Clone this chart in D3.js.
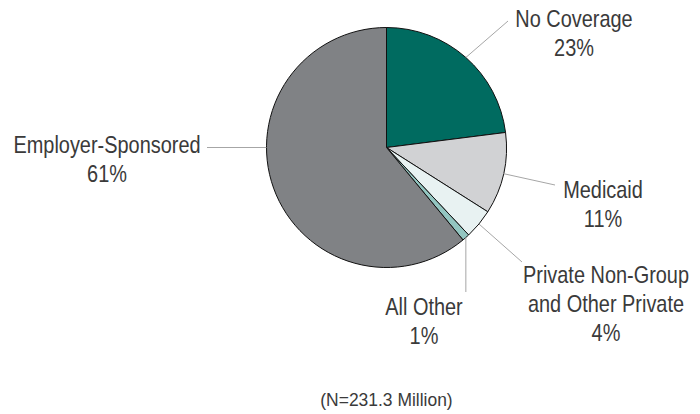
<!DOCTYPE html>
<html lang="en">
<head>
    <meta charset="UTF-8">
    <title>Coverage Pie</title>
    <script src="https://d3js.org/d3.v7.min.js"></script>
    <style>
        body { margin: 0; background: #fff; }
        .label {
            font-family: "Liberation Sans", Arial, sans-serif;
            font-size: 24px;
            fill: #3a3a3a;
        }
        .note { font-size: 18px; }
        .leader { stroke: #a6a6a6; stroke-width: 1; fill: none; }
    </style>
</head>
<body>
<svg id="chart" width="700" height="414"></svg>
<script>
    // data
    const categories = ["No Coverage", "Medicaid", "Private Non-Group and Other Private", "All Other", "Employer-Sponsored"];
    const values = [23, 11, 4, 1, 61];
    const labelLines = [
        ["No Coverage", "23%"],
        ["Medicaid", "11%"],
        ["Private Non-Group", "and Other Private", "4%"],
        ["All Other", "1%"],
        ["Employer-Sponsored", "61%"]
    ];
    const note = "(N=231.3 Million)";

    const colors = ["#006b60", "#d1d2d4", "#e8f2f2", "#93c6c1", "#808285"];

    const CX = 386.5, CY = 147.5, R = 120;
    const LINE_H = 29;
    const SQUEEZE = 0.83; // no condensed font installed, so narrow the text by hand

    // label layout: text centre, first baseline, leader end, optional attach angle (deg)
    const layout = [
        { x: 574, y: 27, ex: 508, ey: 21 },
        { x: 603, y: 198, ex: 555, ey: 185 },
        { x: 606, y: 283, ex: 522, ey: 262 },
        { x: 424, y: 315, ex: null, ey: 292 },
        { x: 107, y: 153, ex: 207, ey: null, angle: 270 }
    ];

    const svg = d3.select("#chart");
    const g = svg.append("g").attr("transform", `translate(${CX},${CY})`);

    const pie = d3.pie().sort(null).value(d => d);
    const arcs = pie(values);
    const arc = d3.arc().innerRadius(0).outerRadius(R);

    g.selectAll("path.slice")
        .data(arcs)
        .join("path")
        .attr("class", "slice")
        .attr("d", arc)
        .attr("fill", (d, i) => colors[i])
        .attr("stroke", "#111")
        .attr("stroke-width", 1);

    // leaders + labels
    arcs.forEach((d, i) => {
        const L = layout[i];
        const a = L.angle != null ? L.angle * Math.PI / 180 : (d.startAngle + d.endAngle) / 2;
        const sx = CX + R * Math.sin(a);
        const sy = CY - R * Math.cos(a);
        const ex = L.ex != null ? L.ex : sx;
        const ey = L.ey != null ? L.ey : sy;
        svg.append("line")
            .attr("class", "leader")
            .attr("x1", sx).attr("y1", sy)
            .attr("x2", ex).attr("y2", ey);

        const t = svg.append("g")
            .attr("transform", `translate(${L.x},0) scale(${SQUEEZE},1)`)
            .append("text")
            .attr("class", "label")
            .attr("text-anchor", "middle");
        labelLines[i].forEach((s, k) => {
            t.append("tspan")
                .attr("x", 0)
                .attr("y", L.y + k * LINE_H)
                .text(s);
        });
    });

    svg.append("g")
        .attr("transform", `translate(${CX},0) scale(0.97,1)`)
        .append("text")
        .attr("class", "label note")
        .attr("text-anchor", "middle")
        .attr("x", 0)
        .attr("y", 406)
        .text(note);
</script>
</body>
</html>
